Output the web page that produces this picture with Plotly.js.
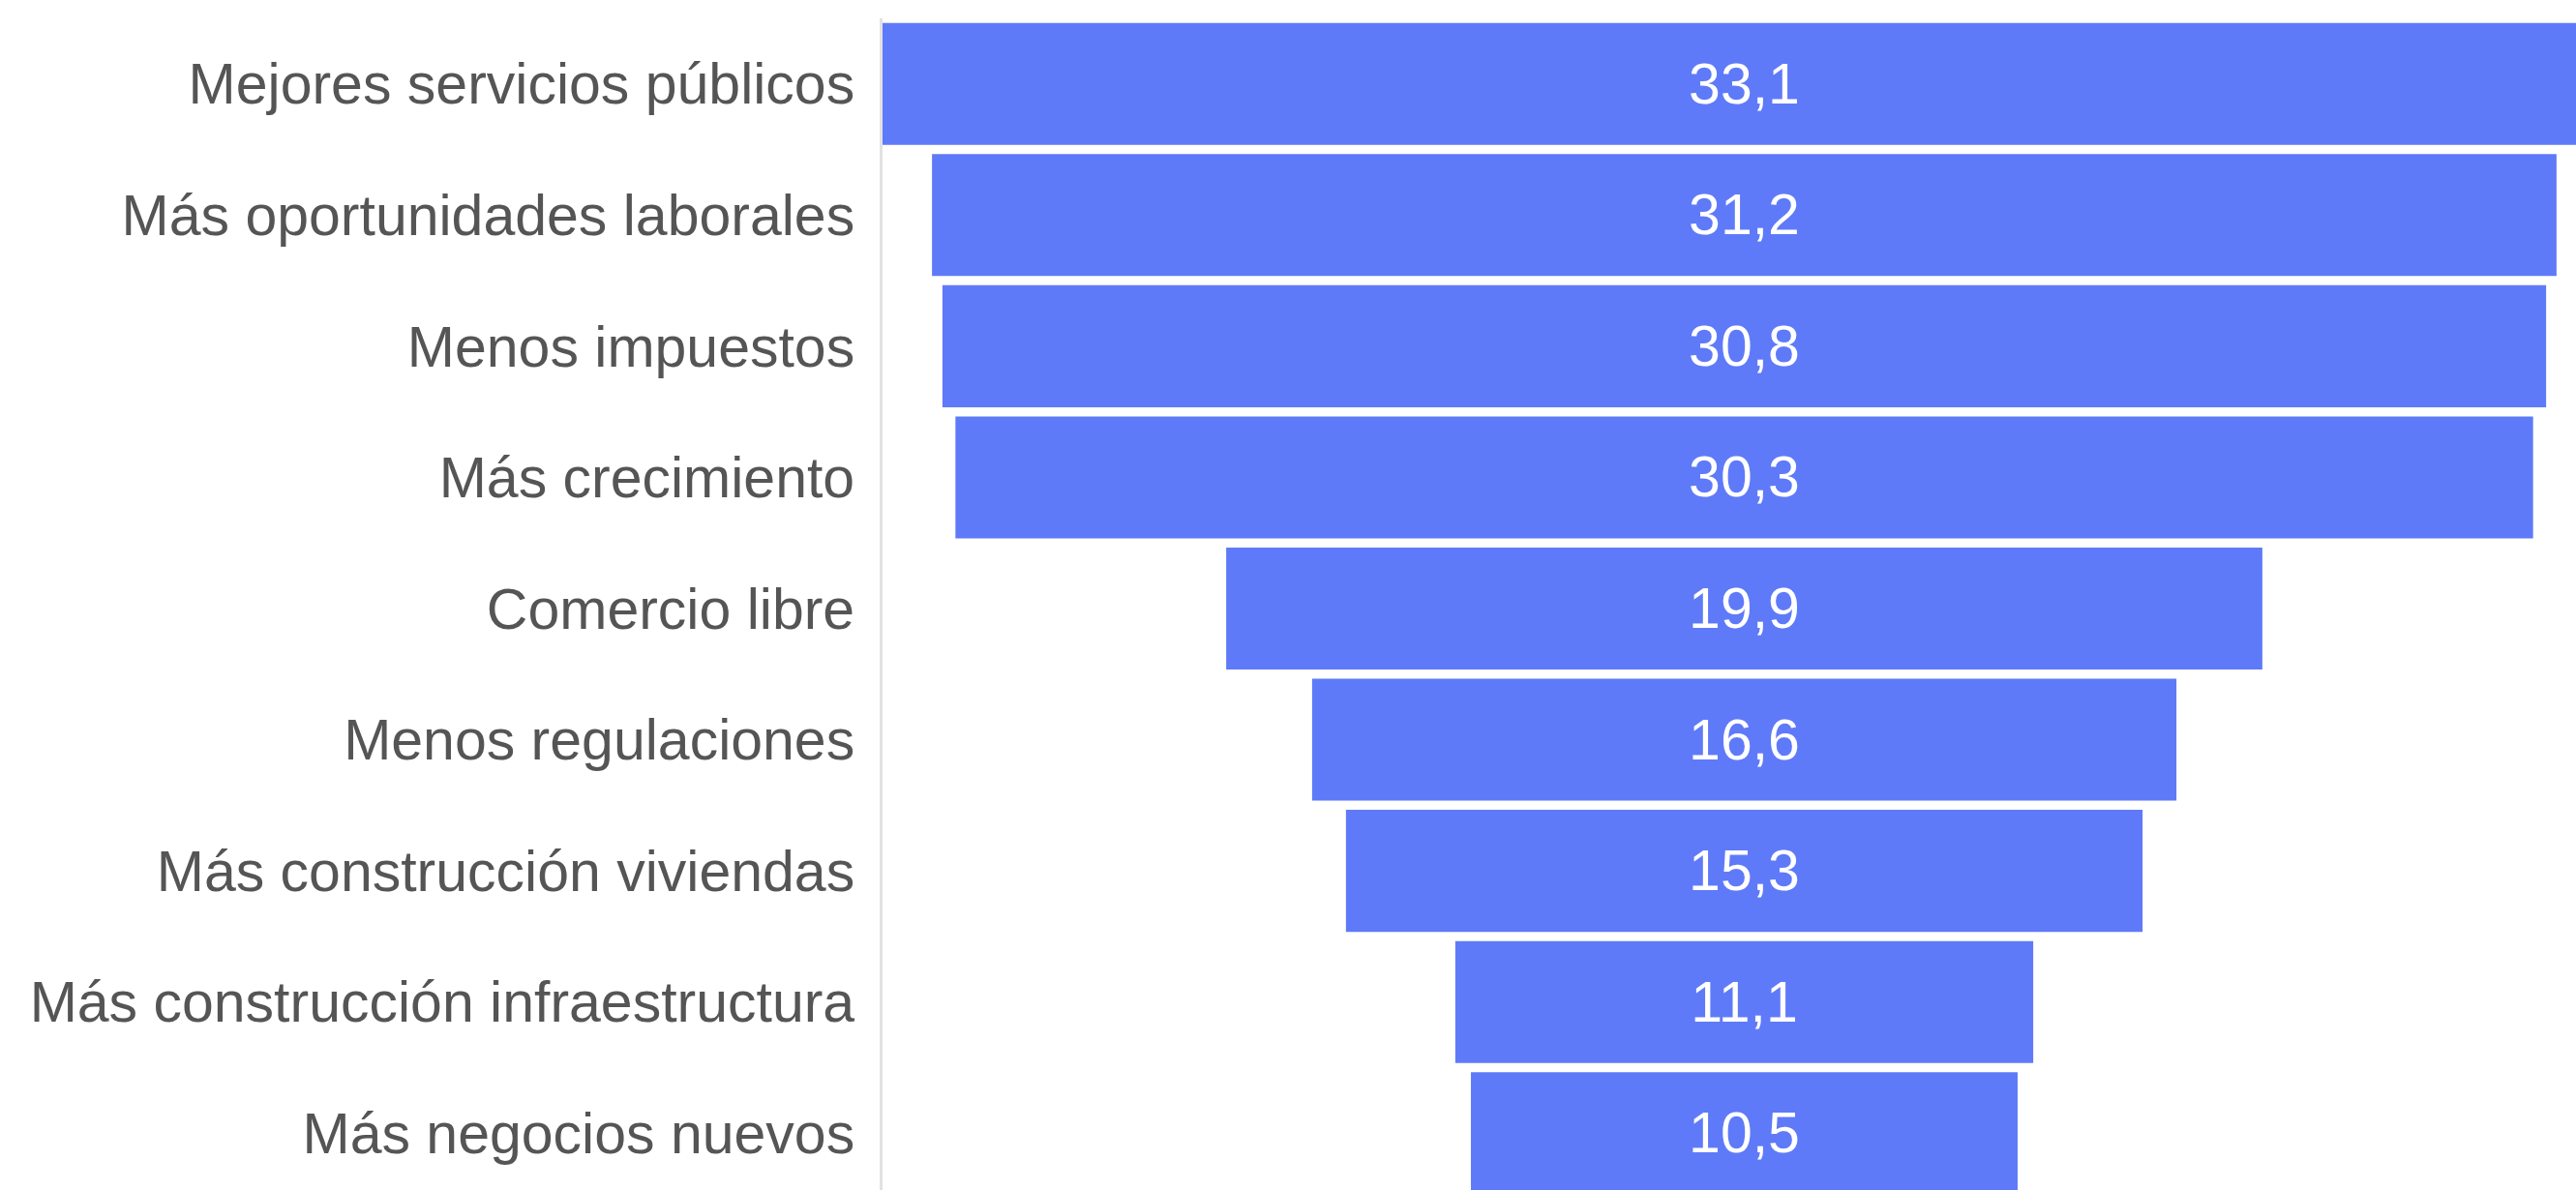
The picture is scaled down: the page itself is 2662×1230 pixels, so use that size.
<!DOCTYPE html>
<html>
<head>
<meta charset="utf-8">
<script src="https://cdn.plot.ly/plotly-3.0.1.min.js"></script>
<style>
  html, body { margin: 0; padding: 0; overflow: hidden; background: #fff; }
  #chart { width: 2693px; height: 1239px; }
</style>
</head>
<body>
<div id="chart"></div>
<script>
const categories = [
  "Mejores servicios públicos",
  "Más oportunidades laborales",
  "Menos impuestos",
  "Más crecimiento",
  "Comercio libre",
  "Menos regulaciones",
  "Más construcción viviendas",
  "Más construcción infraestructura",
  "Más negocios nuevos"
];
const values = [33.1, 31.2, 30.8, 30.3, 19.9, 16.6, 15.3, 11.1, 10.5];

const maxVal = Math.max(...values);

const trace = {
  type: "funnel",
  y: categories,
  x: values,
  textinfo: "value",
  textposition: "inside",
  insidetextanchor: "middle",
  textfont: { family: "Liberation Sans, Arial, sans-serif", size: 59, color: "#ffffff" },
  marker: { color: "#5f7af8", line: { width: 0 } },
  connector: { visible: false },
  hoverinfo: "skip"
};

const layout = {
  width: 2693,
  height: 1239,
  margin: { l: 912, r: 0, t: 19, b: 0, pad: 0 },
  separators: ",.",
  funnelgap: 0.07,
  paper_bgcolor: "#ffffff",
  plot_bgcolor: "#ffffff",
  font: { family: "Liberation Sans, Arial, sans-serif", size: 59, color: "#555555" },
  showlegend: false,
  xaxis: {
    visible: false,
    range: [-maxVal / 2, maxVal / 2],
    showgrid: false,
    zeroline: false
  },
  yaxis: {
    type: "category",
    automargin: false,
    showgrid: false,
    zeroline: false,
    showline: true,
    linecolor: "#e2e2e2",
    linewidth: 3,
    ticks: "",
    ticklabelstandoff: 14,
    tickfont: { family: "Liberation Sans, Arial, sans-serif", size: 59, color: "#555555" }
  }
};

Plotly.newPlot("chart", [trace], layout, { displayModeBar: false, staticPlot: true });
</script>
</body>
</html>
